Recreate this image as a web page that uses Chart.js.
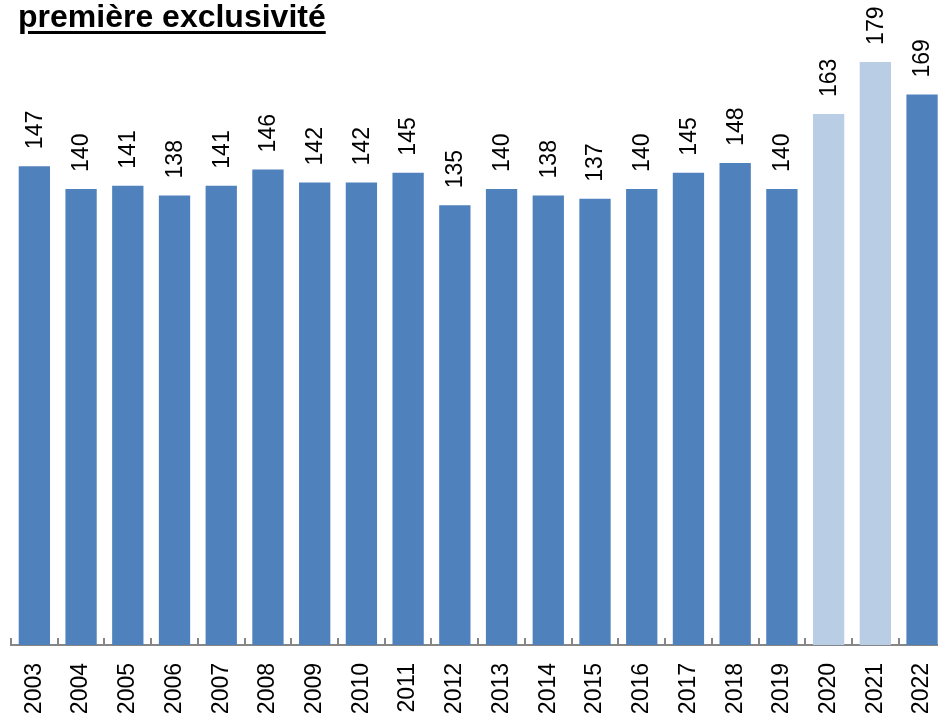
<!DOCTYPE html>
<html lang="fr">
<head>
<meta charset="utf-8">
<title>première exclusivité</title>
<script src="https://cdn.jsdelivr.net/npm/chart.js@4/dist/chart.umd.min.js"></script>
<style>
    html, body { margin: 0; padding: 0; background: #fff; overflow: hidden; }
    #wrap { position: relative; width: 960px; height: 714px; }
    #title {
        position: absolute; left: 18px; top: 0px;
        font: bold 32px "Liberation Sans", Arial, sans-serif;
        line-height: 32px; text-decoration: underline;
        text-decoration-thickness: 3px; text-underline-offset: 4px;
        color: #000; z-index: 2;
    }
</style>
</head>
<body>
<div id="wrap">
    <div id="title">première exclusivité</div>
    <canvas id="filmsChart" width="960" height="714"></canvas>
</div>
<script>
// --- DONNÉES ---
const annees = ['2003', '2004', '2005', '2006', '2007', '2008', '2009', '2010', '2011', '2012',
                '2013', '2014', '2015', '2016', '2017', '2018', '2019', '2020', '2021', '2022'];
const valeurs = [147, 140, 141, 138, 141, 146, 142, 142, 145, 135,
                 140, 138, 137, 140, 145, 148, 140, 163, 179, 169];
// années affichées en bleu clair
const anneesClaires = ['2020', '2021'];

const bleuFonce = '#4F81BD';
const bleuClair = '#B9CDE5';
const gris = '#868686';

document.addEventListener('DOMContentLoaded', () => {

    // Étiquettes de valeurs verticales au-dessus des barres
    const etiquettesPlugin = {
        id: 'etiquettes',
        afterDatasetsDraw(chart) {
            const ctx = chart.ctx;
            const meta = chart.getDatasetMeta(0);
            ctx.save();
            ctx.fillStyle = '#000';
            ctx.font = '23px "Liberation Sans", Arial, sans-serif';
            ctx.textAlign = 'left';
            ctx.textBaseline = 'middle';
            meta.data.forEach((bar, i) => {
                ctx.save();
                ctx.translate(bar.x, bar.y - 17);
                ctx.rotate(-Math.PI / 2);
                ctx.fillText(String(valeurs[i]), 0, 1);
                ctx.restore();
            });
            ctx.restore();
        }
    };

    // Petites graduations vers le haut entre les catégories
    const graduationsPlugin = {
        id: 'graduations',
        afterDraw(chart) {
            const ctx = chart.ctx;
            const x = chart.scales.x;
            const bas = chart.chartArea.bottom;
            ctx.save();
            ctx.strokeStyle = gris;
            ctx.lineWidth = 2;
            ctx.beginPath();
            for (let i = 0; i <= annees.length; i++) {
                const px = Math.round(x.getPixelForValue(i - 0.5));
                ctx.moveTo(px, bas);
                ctx.lineTo(px, bas - 7);
            }
            ctx.stroke();
            ctx.restore();
        }
    };

    const ctx = document.getElementById('filmsChart').getContext('2d');
    new Chart(ctx, {
        type: 'bar',
        data: {
            labels: annees,
            datasets: [{
                data: valeurs,
                backgroundColor: annees.map(a => anneesClaires.includes(a) ? bleuClair : bleuFonce),
                borderWidth: 0,
                categoryPercentage: 1,
                barPercentage: 0.67
            }]
        },
        options: {
            responsive: false,
            animation: false,
            layout: { padding: { left: 11, right: 14, top: 0, bottom: 0 } },
            plugins: {
                legend: { display: false },
                tooltip: { enabled: false }
            },
            scales: {
                x: {
                    offset: true,
                    grid: { display: false },
                    border: { display: true, color: gris, width: 2 },
                    ticks: {
                        color: '#000',
                        font: { family: '"Liberation Sans", Arial, sans-serif', size: 23 },
                        minRotation: 90,
                        maxRotation: 90,
                        autoSkip: false,
                        padding: 10
                    },
                    afterFit: (scale) => { scale.height = 69; }
                },
                y: {
                    display: false,
                    min: 0,
                    max: 198
                }
            }
        },
        plugins: [etiquettesPlugin, graduationsPlugin]
    });
});
</script>
</body>
</html>
